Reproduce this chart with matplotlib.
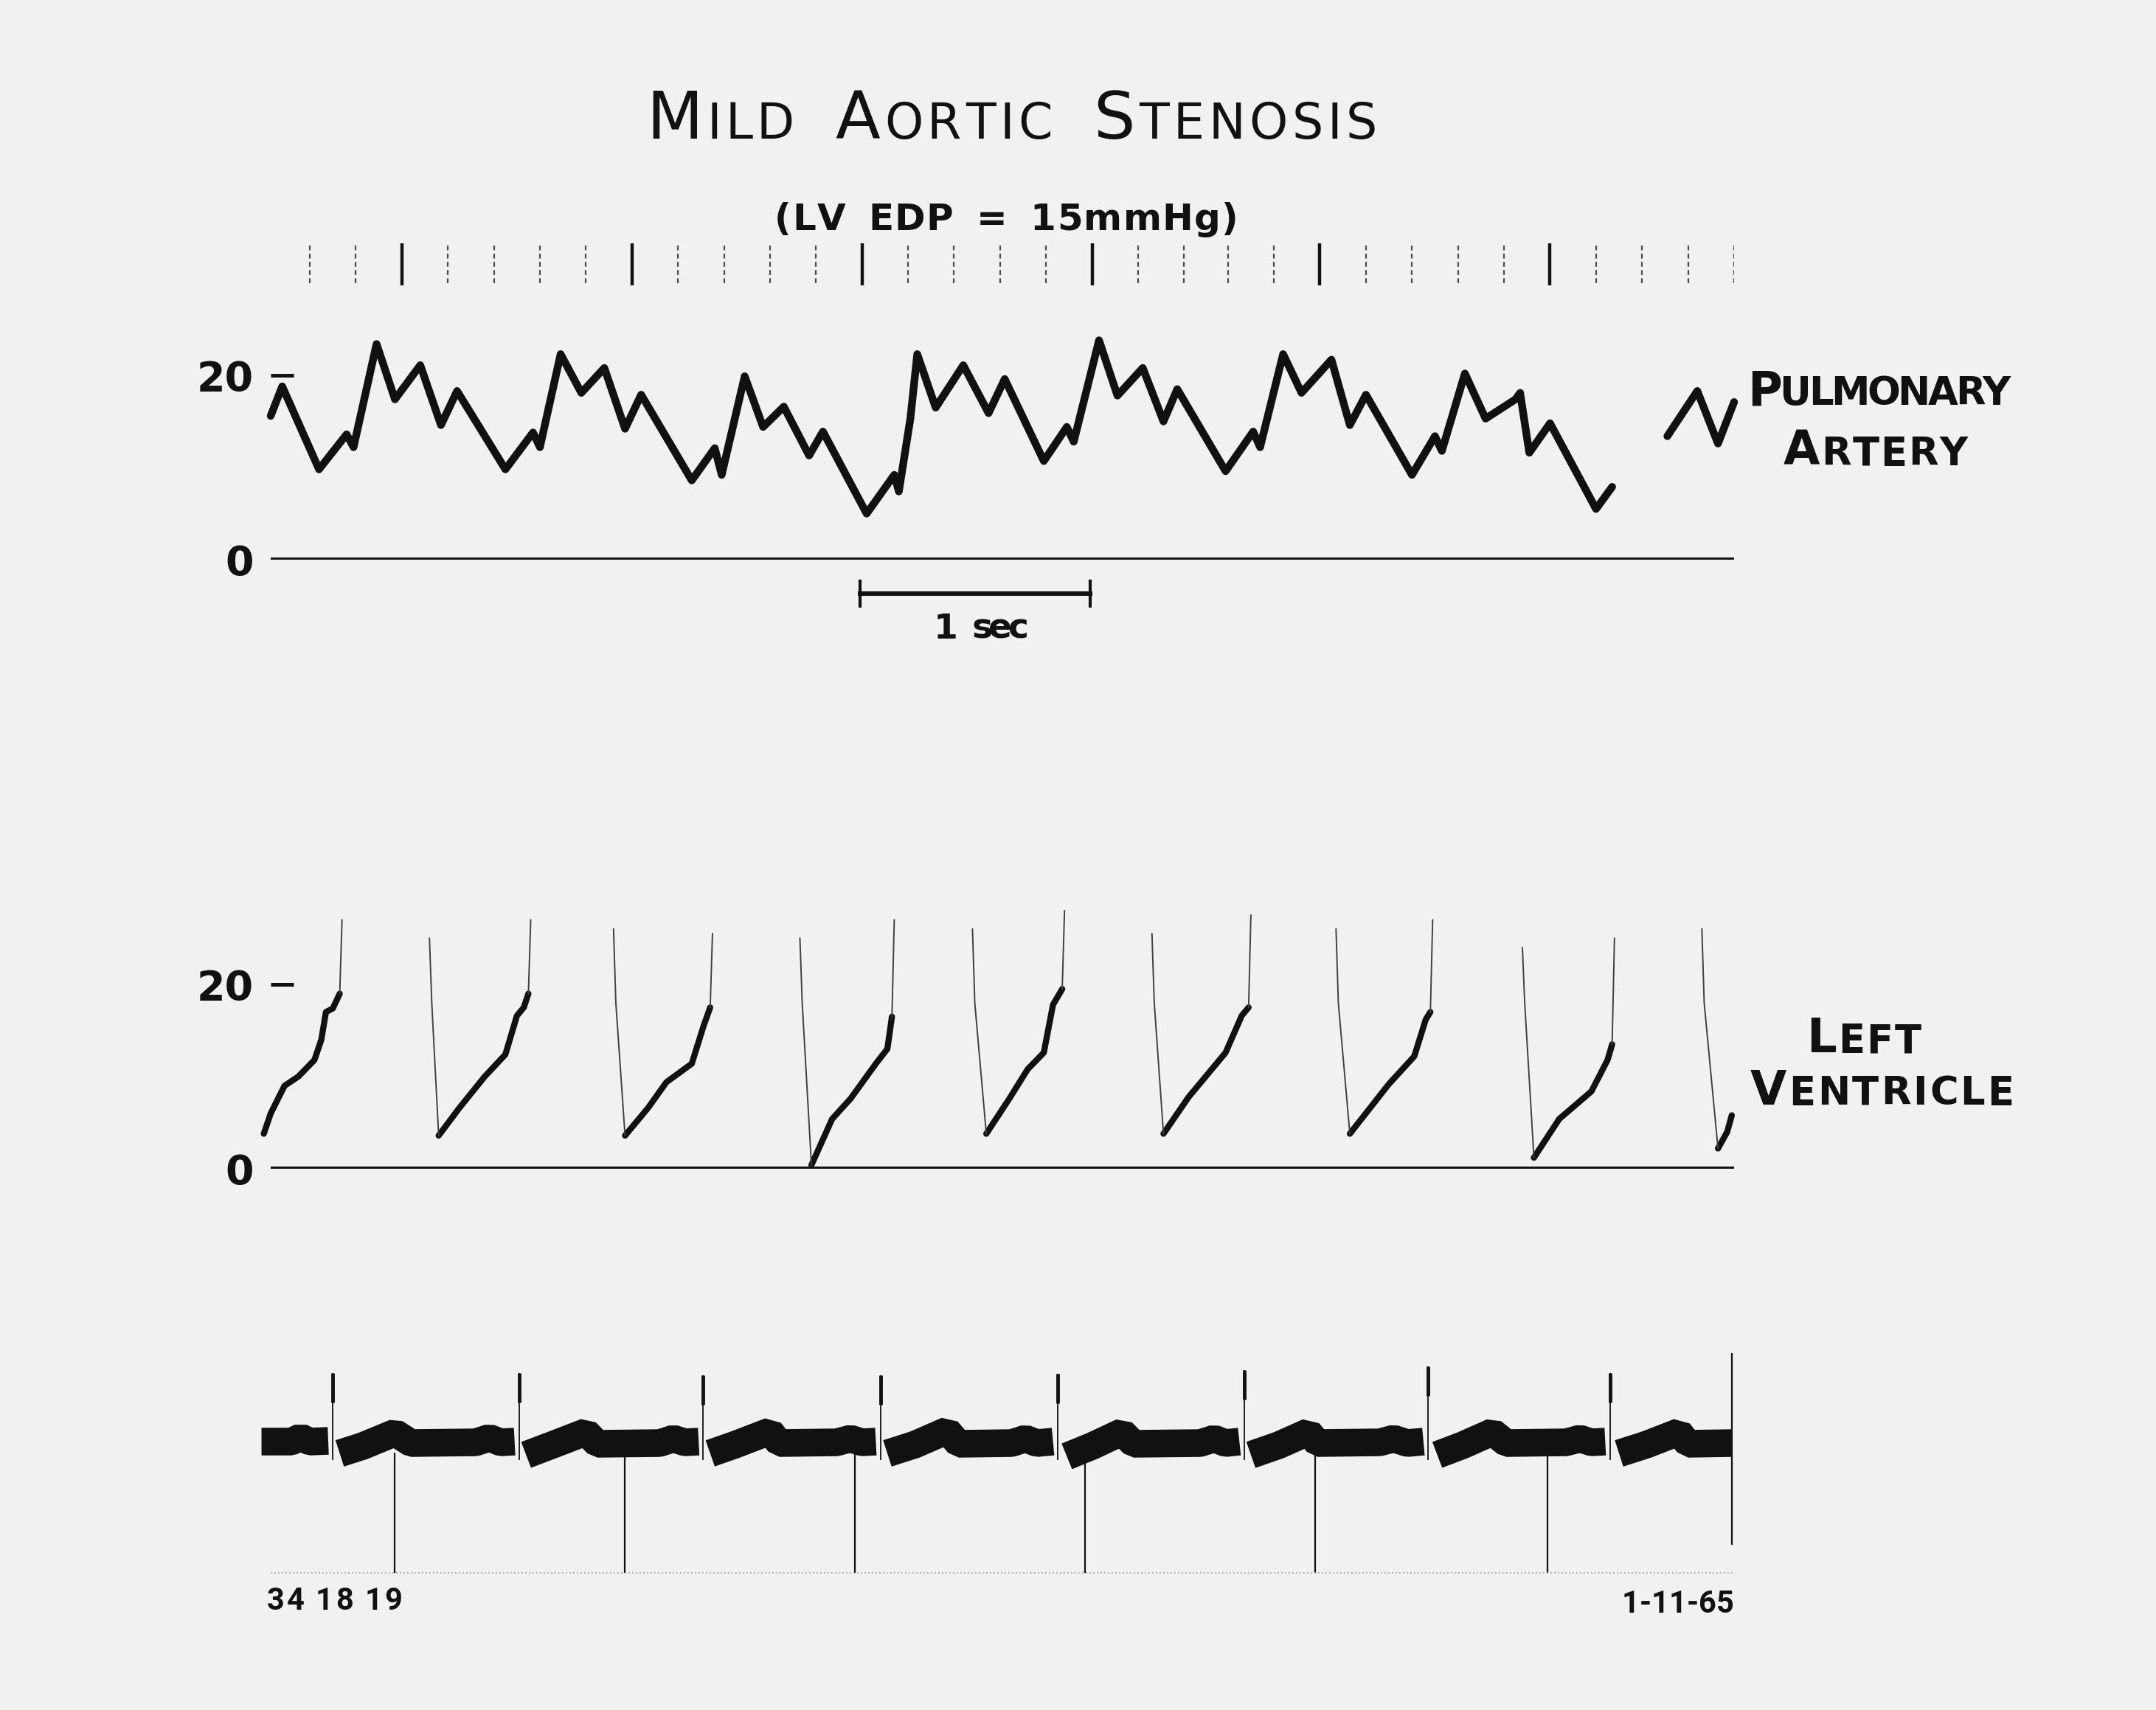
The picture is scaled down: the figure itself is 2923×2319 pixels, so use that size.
#!/usr/bin/env python
# Mild aortic stenosis: pulmonary artery / left ventricle pressure tracings + ECG

import numpy as np
import matplotlib
matplotlib.use('Agg')
import matplotlib.pyplot as plt

W, H, DPI = 2923, 2319, 100
INK = '#111111'
PAPER = '#f1f1f1'
FONT = 'DejaVu Sans'
NARROW = 'Roboto'

# ---------------- data (time in s, pressure in mmHg) ----------------
pa_t = [0.00, 0.05, 0.21, 0.33, 0.36, 0.46, 0.54, 0.65, 0.74, 0.81,
        1.02, 1.14, 1.17, 1.26, 1.35, 1.45, 1.54, 1.61, 1.83, 1.93,
        1.96, 2.06, 2.14, 2.23, 2.34, 2.40, 2.59, 2.71, 2.73, 2.78,
        2.81, 2.89, 3.01, 3.12, 3.19, 3.36, 3.46, 3.49, 3.60, 3.68,
        3.79, 3.88, 3.94, 4.15, 4.27, 4.30, 4.40, 4.48, 4.61, 4.69,
        4.76, 4.96, 5.06, 5.09, 5.19, 5.28, 5.41, 5.43, 5.47, 5.56,
        5.76, 5.83]
pa_p = [15.6, 18.8, 9.8, 13.6, 12.2, 23.4, 17.4, 21.1, 14.6, 18.3,
        9.8, 13.8, 12.2, 22.3, 18.1, 20.8, 14.2, 17.9, 8.6, 12.1,
        9.2, 19.9, 14.4, 16.6, 11.3, 13.9, 5.0, 9.2, 7.4, 15.3,
        22.3, 16.5, 21.1, 15.9, 19.6, 10.7, 14.4, 12.8, 23.8, 17.8,
        20.8, 15.0, 18.5, 9.6, 13.9, 12.2, 22.3, 18.1, 21.7, 14.6,
        17.9, 9.2, 13.4, 11.8, 20.2, 15.3, 17.4, 18.1, 11.6, 14.8,
        5.5, 7.9]
pa2_t = [6.07, 6.20, 6.29, 6.36]
pa2_p = [13.4, 18.3, 12.6, 17.1]

# left ventricle: diastolic filling limbs (thick) per beat
lv_fill_t = [
    [-0.03, 0.00, 0.06, 0.12, 0.19, 0.22, 0.24, 0.27, 0.30],
    [0.73, 0.82, 0.93, 1.02, 1.07, 1.10, 1.12],
    [1.54, 1.64, 1.72, 1.83, 1.88, 1.91],
    [2.35, 2.44, 2.52, 2.63, 2.68, 2.70],
    [3.11, 3.21, 3.29, 3.36, 3.40, 3.44],
    [3.88, 3.99, 4.15, 4.22, 4.25],
    [4.69, 4.86, 4.97, 5.02, 5.04],
    [5.49, 5.60, 5.74, 5.81, 5.83],
    [6.29, 6.33, 6.35],
]
lv_fill_p = [
    [3.8, 6.0, 9.0, 10.0, 11.8, 14.0, 17.0, 17.4, 19.0],
    [3.6, 6.6, 10.0, 12.4, 16.6, 17.5, 19.0],
    [3.6, 6.6, 9.4, 11.4, 15.4, 17.5],
    [0.4, 5.4, 7.6, 11.4, 13.0, 16.5],
    [3.8, 7.6, 10.8, 12.6, 17.8, 19.5],
    [3.8, 7.8, 12.6, 16.6, 17.5],
    [3.8, 9.2, 12.2, 16.2, 17.0],
    [1.2, 5.4, 8.4, 11.8, 13.5],
    [2.2, 4.0, 5.8],
]
# fast systolic strokes (thin, running off scale)
lv_up_t = [0.31, 1.13, 1.92, 2.71, 3.45, 4.26, 5.05, 5.84]
lv_up_top = [27.0, 27.0, 25.5, 27.0, 28.0, 27.5, 27.0, 25.0]
lv_down_t = [0.69, 1.49, 2.30, 3.05, 3.83, 4.63, 5.44, 6.22]
lv_down_top = [25.0, 26.0, 25.0, 26.0, 25.5, 26.0, 24.0, 26.0]

# ECG (arbitrary units), one list per inter-beat segment
ecg_t = [
    [-0.04, 0.09, 0.13, 0.17, 0.25],
    [0.30, 0.40, 0.54, 0.61, 0.89, 0.95, 1.00, 1.06],
    [1.11, 1.22, 1.37, 1.42, 1.69, 1.75, 1.80, 1.86],
    [1.91, 2.02, 2.17, 2.21, 2.46, 2.52, 2.57, 2.63],
    [2.68, 2.80, 2.94, 2.99, 3.22, 3.28, 3.33, 3.40],
    [3.46, 3.57, 3.70, 3.75, 4.04, 4.10, 4.15, 4.21],
    [4.26, 4.38, 4.51, 4.55, 4.82, 4.88, 4.94, 5.01],
    [5.07, 5.18, 5.31, 5.37, 5.63, 5.69, 5.74, 5.80],
    [5.86, 5.98, 6.12, 6.16, 6.35],
]
ecg_v = [
    [0.0, 0.0, 0.6, 0.0, 0.1],
    [-1.6, -0.6, 1.2, -0.2, -0.1, 0.5, -0.1, 0.0],
    [-1.8, -0.5, 1.3, -0.3, -0.2, 0.4, -0.1, 0.0],
    [-1.6, -0.4, 1.4, -0.2, -0.1, 0.4, -0.1, 0.0],
    [-1.6, -0.4, 1.5, -0.3, -0.2, 0.4, -0.2, 0.0],
    [-2.0, -0.6, 1.3, -0.3, -0.2, 0.4, -0.2, 0.0],
    [-1.8, -0.5, 1.3, -0.2, -0.1, 0.4, -0.2, 0.0],
    [-1.8, -0.5, 1.3, -0.2, -0.1, 0.4, -0.1, 0.0],
    [-1.6, -0.4, 1.3, -0.3, -0.2],
]
qrs_t = [0.27, 1.08, 1.88, 2.65, 3.42, 4.23, 5.03, 5.82]
qrs_top = [9.3, 9.3, 9.0, 9.0, 9.2, 9.7, 10.2, 9.3]
sec_marks_t = [0.54, 1.54, 2.54, 3.54, 4.54, 5.55]
ecg_end_t = 6.35

# timer row along the top
timer_major = [0.57, 1.57, 2.57, 3.57, 4.56, 5.56]
timer_minor = [0.17, 0.37, 0.77, 0.97, 1.17, 1.37, 1.77, 1.97, 2.17, 2.37,
               2.77, 2.97, 3.17, 3.37, 3.77, 3.97, 4.16, 4.36, 4.76, 4.96,
               5.16, 5.36, 5.76, 5.96, 6.16, 6.36]
sec_bar = [2.56, 3.56]


def spread_text(fig, pieces, left, right, base, weight='normal', space_em=0.5,
                family=FONT):
    """Lay out letters (mixed sizes) between left/right pixel edges on a baseline."""
    renderer = fig.canvas.get_renderer()
    items = []
    for s, fs in pieces:
        for ch in s:
            if ch == ' ':
                items.append((None, space_em * fs * DPI / 72.0))
            else:
                t = fig.text(0, 1 - base / H, ch, fontsize=fs, fontweight=weight,
                             color=INK, ha='left', va='baseline', family=family)
                items.append((t, t.get_window_extent(renderer).width))
    n_glyphs = len([1 for t, _ in items if t is not None])
    used = sum(w for _, w in items)
    gap = (right - left - used) / max(n_glyphs - 1, 1)
    x = left
    first = True
    for t, w in items:
        if t is None:
            x += w
            continue
        if not first:
            x += gap
        t.set_x(x / W)
        x += w
        first = False


fig = plt.figure(figsize=(W / DPI, H / DPI), dpi=DPI)
fig.patch.set_facecolor(PAPER)

X0, X1 = 367, 2351
T0, T1 = 0.0, 6.36


def add_panel(top, bottom):
    ax = fig.add_axes([X0 / W, 1 - bottom / H, (X1 - X0) / W, (bottom - top) / H])
    ax.set_xlim(T0, T1)
    ax.patch.set_visible(False)
    for s in ax.spines.values():
        s.set_visible(False)
    ax.set_xticks([])
    ax.set_yticks([])
    return ax


def pressure_ticks(ax):
    ax.set_yticks([0, 20])
    ax.set_yticklabels(['0', '20'])
    ax.tick_params(axis='y', direction='in', length=22, width=3.6, pad=17,
                   labelsize=40, colors=INK)
    ax.yaxis.get_major_ticks()[0].tick1line.set_visible(False)
    for lab in ax.get_yticklabels():
        lab.set_fontweight('bold')


# timer marks
ax_tm = add_panel(330, 387)
ax_tm.set_ylim(0, 1)
ax_tm.vlines(timer_major, 0, 1, color=INK, lw=3.2)
ax_tm.vlines(timer_minor, 0.05, 0.95, color='0.3', lw=1.6, linestyles=(0, (3, 2)))

# pulmonary artery
ax_pa = add_panel(459, 759)
ax_pa.set_ylim(0, 24)
ax_pa.axhline(0, color=INK, lw=4.3)
ax_pa.plot(pa_t, pa_p, color=INK, lw=7.5, solid_joinstyle='round',
           solid_capstyle='round', clip_on=False)
ax_pa.plot(pa2_t, pa2_p, color=INK, lw=7.5, solid_joinstyle='round',
           solid_capstyle='round', clip_on=False)
pressure_ticks(ax_pa)
# 1 sec scale bar
ax_pa.plot(sec_bar, [-3.7, -3.7], color=INK, lw=4.3, clip_on=False)
ax_pa.vlines(sec_bar, -2.2, -5.2, color=INK, lw=3, clip_on=False)

# left ventricle
ax_lv = add_panel(1235, 1585)
ax_lv.set_ylim(0, 28)
ax_lv.axhline(0, color=INK, lw=4.3)
for bt, bp in zip(lv_fill_t, lv_fill_p):
    ax_lv.plot(bt, bp, color=INK, lw=6.0, solid_joinstyle='round',
               solid_capstyle='round', clip_on=False)
for i, tu in enumerate(lv_up_t):
    tf = lv_fill_t[i][-1]
    pf = lv_fill_p[i][-1]
    ax_lv.plot([tf, tu], [pf, lv_up_top[i]], color='0.25', lw=1.4, clip_on=False)
for i, td in enumerate(lv_down_t):
    tm = lv_fill_t[i + 1][0]
    pm = lv_fill_p[i + 1][0]
    ax_lv.plot([td, td + 0.01, tm], [lv_down_top[i], 18.0, pm], color='0.25', lw=1.4,
               clip_on=False)
pressure_ticks(ax_lv)

# ECG and second marks
ax_ecg = add_panel(1835, 2135)
ax_ecg.set_ylim(-18, 12)
for et, ev in zip(ecg_t, ecg_v):
    ax_ecg.plot(et, ev, color=INK, lw=27, solid_capstyle='butt',
                solid_joinstyle='bevel', clip_on=False)
ax_ecg.vlines(qrs_t, -2.5, qrs_top, color=INK, lw=1.3)
ax_ecg.vlines(qrs_t, np.array(qrs_top) - 4, qrs_top, color=INK, lw=3.5)
ax_ecg.vlines(sec_marks_t, -1.5, -17.8, color=INK, lw=1.6)
ax_ecg.vlines([ecg_end_t], -14, 12, color=INK, lw=1.6, clip_on=False)
ax_ecg.axhline(-17.8, color='0.6', lw=1.2, ls=(0, (1, 2)))

# text
spread_text(fig, [('M', 64), ('ILD', 48), (' ', 48), ('A', 64), ('ORTIC', 48),
                  (' ', 48), ('S', 64), ('TENOSIS', 48)], 876, 1867, 188,
            space_em=0.75)
spread_text(fig, [('(LV EDP = 15mmHg)', 36)], 1050, 1679, 312, weight='bold',
            space_em=0.6)
spread_text(fig, [('P', 46), ('ULMONARY', 38)], 2369, 2726, 549, weight='bold')
spread_text(fig, [('A', 46), ('RTERY', 38)], 2418, 2668, 631, weight='bold')
spread_text(fig, [('L', 46), ('EFT', 38)], 2449, 2605, 1427, weight='bold')
spread_text(fig, [('V', 46), ('ENTRICLE', 38)], 2373, 2730, 1498, weight='bold')
spread_text(fig, [('1 sec', 34)], 1266, 1395, 866, weight='bold')
spread_text(fig, [('34 18 19', 30)], 362, 545, 2183, weight='bold', space_em=0.3,
            family=NARROW)
spread_text(fig, [('1-11-65', 30)], 2199, 2351, 2187, weight='bold', family=NARROW)

fig.savefig('out.png', dpi=DPI, facecolor=fig.get_facecolor())
